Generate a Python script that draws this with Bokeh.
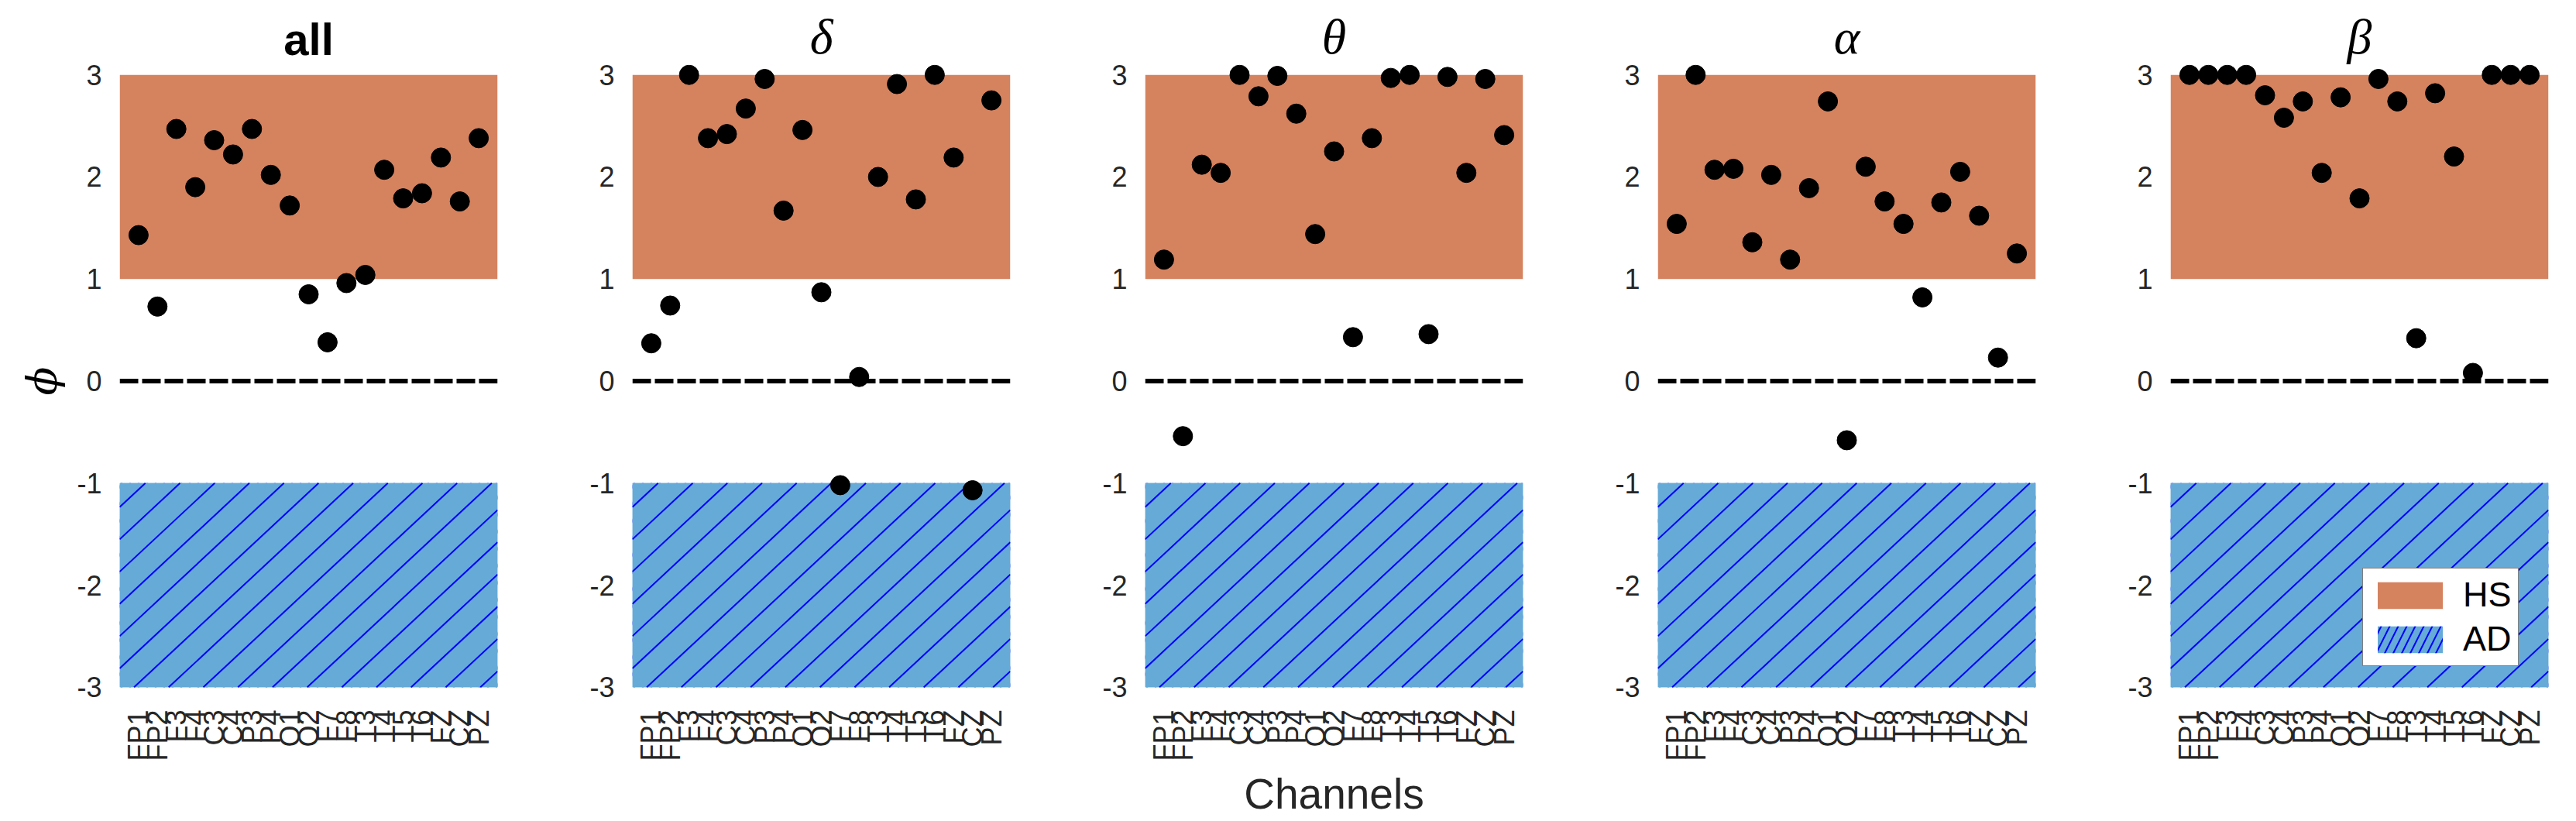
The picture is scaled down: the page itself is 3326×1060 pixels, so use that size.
import math
import numpy as np
from bokeh.plotting import figure
from bokeh.models import FixedTicker, Span, Legend, LegendItem, Range1d
from bokeh.layouts import row
from bokeh.embed import file_html
from bokeh.resources import INLINE

# ---------------- data ----------------
channels = ["FP1", "FP2", "F3", "F4", "C3", "C4", "P3", "P4", "O1", "O2",
            "F7", "F8", "T3", "T4", "T5", "T6", "FZ", "CZ", "PZ"]
band_titles = ["all", "δ", "θ", "α", "β"]

phi_all = [1.43, 0.73, 2.47, 1.90, 2.36, 2.22, 2.47, 2.02, 1.72, 0.85,
           0.38, 0.96, 1.04, 2.07, 1.79, 1.84, 2.19, 1.76, 2.38]
phi_delta = [0.37, 0.74, 3.00, 2.38, 2.42, 2.67, 2.96, 1.67, 2.46, 0.87,
             -1.02, 0.04, 2.00, 2.91, 1.78, 3.00, 2.19, -1.07, 2.75]
phi_theta = [1.19, -0.54, 2.12, 2.04, 3.00, 2.79, 2.99, 2.62, 1.44, 2.25,
             0.43, 2.38, 2.97, 3.00, 0.46, 2.98, 2.04, 2.96, 2.41]
phi_alpha = [1.54, 3.00, 2.07, 2.08, 1.36, 2.02, 1.19, 1.89, 2.74, -0.58,
             2.10, 1.76, 1.54, 0.82, 1.75, 2.05, 1.62, 0.23, 1.25]
phi_beta = [3.00, 3.00, 3.00, 3.00, 2.80, 2.58, 2.74, 2.04, 2.78, 1.79,
            2.96, 2.74, 0.42, 2.82, 2.20, 0.08, 3.00, 3.00, 3.00]

hs_region = [1, 3]     # healthy subjects band (phi)
ad_region = [-3, -1]   # Alzheimer's disease band (phi)
y_ticks = [-3, -2, -1, 0, 1, 2, 3]
y_tick_labels = ["-3", "-2", "-1", "0", "1", "2", "3"]

series = [phi_all, phi_delta, phi_theta, phi_alpha, phi_beta]

# ---------------- styling / layout ----------------
HS_COLOR = "#D5825F"
AD_COLOR = "#66AAD7"
HATCH_COLOR = "#0000FF"
TXT = "#262626"
n = len(channels)

FRAME_W, FRAME_H = 488, 818
X_LO, X_HI = 0, n + 1
Y_LO, Y_HI = -3.1, 3.1
PX_X = FRAME_W / (X_HI - X_LO)
PX_Y = FRAME_H / (Y_HI - Y_LO)

HATCH_SLOPE = math.tan(math.radians(43))   # screen-space slope of hatch lines
HATCH_GAP = 41.7                            # vertical distance between lines (px)
HATCH_OFFSET = 31.0                         # first line below top-left corner (px)


def hatch_segments(x0, x1, y0, y1):
    """Diagonal hatch lines ('/') clipped to a data-space rectangle."""
    W = (x1 - x0) * PX_X
    H = (y1 - y0) * PX_Y
    m = HATCH_SLOPE
    xs0, ys0, xs1, ys1 = [], [], [], []
    c = H - HATCH_OFFSET
    while c > -m * W:
        xa = max(0.0, -c / m)
        xb = min(W, (H - c) / m)
        if xb > xa:
            xs0.append(x0 + xa / PX_X)
            ys0.append(y0 + (m * xa + c) / PX_Y)
            xs1.append(x0 + xb / PX_X)
            ys1.append(y0 + (m * xb + c) / PX_Y)
        c -= HATCH_GAP
    return xs0, ys0, xs1, ys1


figs = []
for i, (title, vals) in enumerate(zip(band_titles, series)):
    p = figure(width=662, height=1058,
               x_range=Range1d(X_LO, X_HI), y_range=Range1d(Y_LO, Y_HI),
               output_backend="svg", toolbar_location=None,
               min_border_left=154, min_border_right=20,
               min_border_top=83, min_border_bottom=157)
    p.outline_line_color = None
    p.grid.visible = False
    p.background_fill_color = "white"
    p.border_fill_color = "white"

    r_hs = p.quad(left=[X_LO], right=[X_HI], bottom=[hs_region[0]], top=[hs_region[1]],
                  fill_color=HS_COLOR, line_color=None)
    # legend swatch renderer for AD (hidden beneath the solid band)
    r_ad_leg = p.quad(left=[X_LO], right=[X_HI], bottom=[ad_region[0]], top=[ad_region[1]],
                      fill_color=AD_COLOR, line_color=None,
                      hatch_pattern="/", hatch_color=HATCH_COLOR,
                      hatch_weight=2, hatch_scale=22)
    p.quad(left=[X_LO], right=[X_HI], bottom=[ad_region[0]], top=[ad_region[1]],
           fill_color=AD_COLOR, line_color=None)
    hx0, hy0, hx1, hy1 = hatch_segments(X_LO, X_HI, ad_region[0], ad_region[1])
    p.segment(x0=hx0, y0=hy0, x1=hx1, y1=hy1, line_color=HATCH_COLOR, line_width=2)

    p.add_layout(Span(location=0, dimension="width", line_color="black",
                      line_width=6, line_dash="24 5"))

    xs = list(range(1, n + 1))
    p.scatter(x=xs, y=vals, size=25, fill_color="black", line_color="black")

    # title
    p.title.text = title
    p.title.align = "center"
    p.title.standoff = 1
    if title == "all":
        p.title.text_font = "Liberation Sans"
        p.title.text_font_style = "bold"
        p.title.text_font_size = "58px"
    else:
        p.title.text_font = "Liberation Serif"
        p.title.text_font_style = "italic"
        p.title.text_font_size = "64px"
    p.title.text_color = "black"

    # x axis
    xa = p.xaxis[0]
    xa.ticker = FixedTicker(ticks=xs)
    xa.major_label_overrides = {k: c for k, c in zip(xs, channels)}
    xa.major_label_orientation = np.pi / 2
    xa.major_label_text_font = "Liberation Sans"
    xa.major_label_text_font_size = "36px"
    xa.major_label_text_color = TXT
    xa.major_label_standoff = 10
    xa.axis_line_color = None
    xa.major_tick_line_color = None
    xa.minor_tick_line_color = None
    if i == 2:
        xa.axis_label = "Channels"
        xa.axis_label_text_font = "Liberation Sans"
        xa.axis_label_text_font_style = "normal"
        xa.axis_label_text_font_size = "55px"
        xa.axis_label_text_color = TXT
        xa.axis_label_standoff = 8

    # y axis
    ya = p.yaxis[0]
    ya.ticker = FixedTicker(ticks=y_ticks)
    ya.major_label_overrides = {k: s for k, s in zip(y_ticks, y_tick_labels)}
    ya.major_label_text_font = "Liberation Sans"
    ya.major_label_text_font_size = "36px"
    ya.major_label_text_color = TXT
    ya.major_label_standoff = 17
    ya.axis_line_color = None
    ya.major_tick_line_color = None
    ya.minor_tick_line_color = None
    if i == 0:
        ya.axis_label = "ϕ"
        ya.axis_label_text_font = "DejaVu Serif"
        ya.axis_label_text_font_style = "italic"
        ya.axis_label_text_font_size = "54px"
        ya.axis_label_text_color = "black"
        ya.axis_label_standoff = 10

    if i == 4:
        legend = Legend(items=[LegendItem(label="HS", renderers=[r_hs]),
                               LegendItem(label="AD", renderers=[r_ad_leg])],
                        location=(248, 40))
        legend.glyph_width = 105
        legend.glyph_height = 43
        legend.label_height = 43
        legend.spacing = 5
        legend.padding = 8
        legend.margin = 0
        legend.label_standoff = 16
        legend.label_text_font = "Liberation Sans"
        legend.label_text_font_size = "45px"
        legend.label_text_color = "black"
        legend.border_line_color = "black"
        legend.border_line_width = 1.5
        legend.background_fill_color = "white"
        legend.background_fill_alpha = 1.0
        p.add_layout(legend)

    figs.append(p)

layout = row(*figs)
open("out.html", "w").write(file_html(layout, INLINE))
